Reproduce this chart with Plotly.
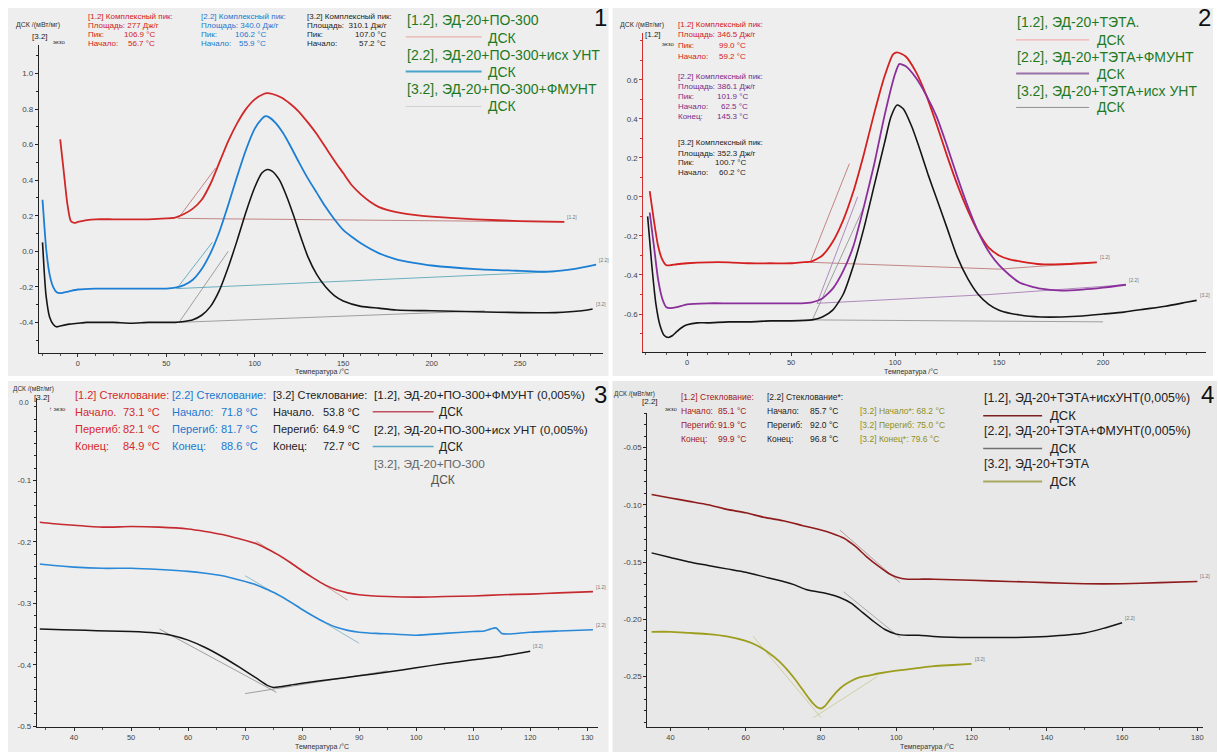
import plotly.graph_objects as go

W, H = 1218, 756
FONT = "Arial, 'Liberation Sans', sans-serif"

# ---------------- Panel 1 data (ЭД-20 + ПО-300) ----------------
p1_red_T = [-10, -8, -6, -4, -2, 0, 5, 10, 20, 30, 40, 50, 55, 60, 65, 70, 75, 80, 85, 90, 95, 100, 105, 107, 110, 115, 120, 125, 130, 135, 140, 145, 150, 155, 160, 165, 170, 180, 190, 200, 225, 250, 275]
p1_red_Y = [0.63, 0.45, 0.27, 0.17, 0.16, 0.165, 0.175, 0.18, 0.18, 0.18, 0.18, 0.185, 0.19, 0.21, 0.24, 0.29, 0.38, 0.50, 0.62, 0.72, 0.80, 0.855, 0.885, 0.89, 0.885, 0.865, 0.83, 0.785, 0.725, 0.66, 0.585, 0.51, 0.44, 0.37, 0.32, 0.28, 0.25, 0.22, 0.205, 0.195, 0.18, 0.17, 0.165]
p1_blue_T = [-20, -19, -18, -16, -14, -12, -10, -5, 0, 10, 20, 30, 40, 50, 55, 60, 65, 70, 75, 80, 85, 90, 95, 100, 104, 106, 108, 112, 116, 120, 125, 130, 135, 140, 145, 150, 155, 160, 170, 180, 190, 200, 225, 250, 265, 280, 293]
p1_blue_Y = [0.29, 0.15, 0.02, -0.13, -0.20, -0.23, -0.235, -0.225, -0.215, -0.21, -0.21, -0.21, -0.21, -0.21, -0.205, -0.19, -0.16, -0.10, -0.01, 0.11, 0.26, 0.42, 0.57, 0.69, 0.745, 0.76, 0.755, 0.72, 0.665, 0.595, 0.50, 0.41, 0.33, 0.25, 0.18, 0.12, 0.08, 0.045, -0.01, -0.045, -0.065, -0.08, -0.10, -0.11, -0.115, -0.10, -0.075]
p1_black_T = [-20, -19, -18, -16, -14, -12, -10, -5, 0, 5, 10, 20, 30, 40, 50, 55, 60, 65, 70, 75, 80, 85, 90, 95, 100, 104, 107, 110, 114, 118, 122, 126, 130, 135, 140, 145, 150, 160, 170, 180, 200, 225, 250, 270, 285, 291]
p1_black_Y = [0.05, -0.12, -0.25, -0.37, -0.41, -0.425, -0.42, -0.41, -0.405, -0.40, -0.40, -0.40, -0.405, -0.40, -0.40, -0.40, -0.395, -0.385, -0.36, -0.31, -0.22, -0.09, 0.06, 0.22, 0.36, 0.44, 0.46, 0.45, 0.40, 0.31, 0.20, 0.08, -0.03, -0.13, -0.20, -0.25, -0.28, -0.31, -0.32, -0.33, -0.335, -0.34, -0.345, -0.345, -0.335, -0.325]
p1_aux = [
    ([56.7, 275], [0.185, 0.165], "#b86a6a"),
    ([56.7, 78], [0.185, 0.47], "#b86a6a"),
    ([55.9, 270], [-0.21, -0.115], "#4aa0b4"),
    ([55.9, 76], [-0.21, 0.05], "#4aa0b4"),
    ([57.2, 230], [-0.40, -0.335], "#8a8a8a"),
    ([57.2, 85], [-0.40, 0.0], "#8a8a8a"),
]

# ---------------- Panel 2 data (ЭД-20 + ТЭТА) ----------------
p2_red_T = [-18, -16, -14, -12, -10, -8, -5, 0, 10, 20, 30, 40, 50, 55, 60, 65, 70, 75, 80, 85, 90, 95, 99, 101, 105, 110, 115, 120, 125, 130, 135, 140, 145, 150, 155, 160, 170, 180, 190, 197]
p2_red_Y = [0.03, -0.12, -0.25, -0.32, -0.35, -0.35, -0.345, -0.34, -0.335, -0.335, -0.34, -0.34, -0.34, -0.335, -0.33, -0.30, -0.23, -0.12, 0.03, 0.22, 0.43, 0.62, 0.73, 0.74, 0.72, 0.64, 0.52, 0.37, 0.21, 0.06, -0.07, -0.18, -0.26, -0.30, -0.32, -0.33, -0.345, -0.345, -0.34, -0.335]
p2_purple_T = [-18, -16, -14, -12, -10, -8, -5, 0, 10, 20, 30, 40, 50, 55, 60, 65, 70, 75, 80, 85, 90, 95, 100, 102, 105, 110, 115, 120, 125, 130, 135, 140, 145, 150, 155, 160, 170, 180, 190, 200, 211]
p2_purple_Y = [-0.08, -0.25, -0.42, -0.52, -0.565, -0.57, -0.565, -0.55, -0.545, -0.545, -0.545, -0.545, -0.545, -0.545, -0.54, -0.52, -0.47, -0.38, -0.25, -0.05, 0.17, 0.42, 0.63, 0.68, 0.67, 0.61, 0.52, 0.41, 0.26, 0.10, -0.05, -0.18, -0.28, -0.35, -0.40, -0.44, -0.47, -0.48, -0.475, -0.465, -0.45]
p2_black_T = [-19, -17, -15, -13, -11, -9, -7, -5, -2, 0, 5, 10, 20, 30, 40, 50, 60, 65, 70, 75, 80, 85, 90, 95, 98, 101, 104, 108, 112, 116, 120, 125, 130, 135, 140, 145, 150, 160, 170, 180, 190, 200, 210, 220, 230, 240, 245]
p2_black_Y = [-0.10, -0.35, -0.55, -0.66, -0.71, -0.72, -0.71, -0.69, -0.665, -0.655, -0.645, -0.645, -0.64, -0.64, -0.635, -0.635, -0.63, -0.615, -0.58, -0.50, -0.35, -0.16, 0.06, 0.28, 0.41, 0.47, 0.45, 0.36, 0.24, 0.11, -0.01, -0.16, -0.31, -0.42, -0.50, -0.55, -0.58, -0.605, -0.615, -0.615, -0.61, -0.60, -0.59, -0.575, -0.56, -0.54, -0.53]
p2_aux = [
    ([59.2, 150, 197], [-0.335, -0.37, -0.335], "#b86a6a"),
    ([59.2, 78], [-0.335, 0.17], "#b86a6a"),
    ([62.5, 145.3, 211], [-0.545, -0.50, -0.45], "#a070b0"),
    ([62.5, 82], [-0.545, 0.0], "#a070b0"),
    ([60.2, 200], [-0.63, -0.64], "#8a8a8a"),
    ([60.2, 85], [-0.63, -0.05], "#8a8a8a"),
]

# ---------------- Panel 3 data (glass transition, ПО-300) ----------------
p3_red_T = [34, 36, 40, 45, 50, 55, 60, 63, 66, 69, 72, 74, 76, 78, 80, 82, 84, 86, 88, 90, 95, 100, 105, 110, 115, 120, 125, 131]
p3_red_Y = [-0.168, -0.170, -0.173, -0.176, -0.175, -0.176, -0.179, -0.183, -0.188, -0.195, -0.203, -0.212, -0.222, -0.234, -0.247, -0.259, -0.270, -0.278, -0.283, -0.286, -0.289, -0.290, -0.289, -0.288, -0.286, -0.285, -0.283, -0.281]
p3_blue_T = [34, 36, 40, 45, 50, 55, 60, 63, 66, 69, 72, 74, 76, 78, 80, 82, 84, 86, 88, 90, 93, 96, 100, 105, 110, 112, 113, 114, 115, 116, 120, 125, 131]
p3_blue_Y = [-0.236, -0.238, -0.241, -0.243, -0.243, -0.245, -0.248, -0.251, -0.255, -0.262, -0.270, -0.278, -0.287, -0.298, -0.310, -0.321, -0.331, -0.339, -0.344, -0.347, -0.349, -0.350, -0.352, -0.349, -0.346, -0.345, -0.342, -0.340, -0.349, -0.350, -0.347, -0.345, -0.343]
p3_black_T = [34, 38, 42, 46, 50, 54, 57, 60, 63, 66, 69, 72, 74, 75, 76, 78, 80, 85, 90, 95, 100, 105, 110, 115, 120]
p3_black_Y = [-0.342, -0.343, -0.344, -0.345, -0.346, -0.348, -0.352, -0.360, -0.372, -0.387, -0.404, -0.422, -0.434, -0.437, -0.436, -0.433, -0.430, -0.424, -0.418, -0.412, -0.405, -0.398, -0.392, -0.386, -0.378]
p3_aux = [
    ([72, 88], [-0.199, -0.295], "#c08a8a"),
    ([70, 90], [-0.255, -0.365], "#7ab0c0"),
    ([55, 75.5], [-0.342, -0.445], "#8a8a8a"),
    ([70, 95], [-0.447, -0.41], "#8a8a8a"),
]

# ---------------- Panel 4 data (glass transition, ТЭТА) ----------------
p4_red_T = [35, 40, 45, 50, 55, 60, 65, 70, 75, 80, 83, 86, 89, 92, 95, 98, 100, 103, 106, 110, 120, 130, 140, 150, 160, 170, 180]
p4_red_Y = [-0.091, -0.094, -0.097, -0.100, -0.104, -0.107, -0.111, -0.114, -0.118, -0.122, -0.125, -0.129, -0.136, -0.145, -0.153, -0.160, -0.163, -0.165, -0.165, -0.165, -0.166, -0.167, -0.168, -0.169, -0.169, -0.168, -0.167]
p4_black_T = [35, 40, 45, 50, 55, 60, 65, 70, 73, 76, 79, 82, 85, 88, 91, 94, 97, 100, 103, 106, 110, 120, 130, 140, 150, 155, 160]
p4_black_Y = [-0.142, -0.146, -0.150, -0.153, -0.156, -0.159, -0.163, -0.167, -0.170, -0.174, -0.176, -0.178, -0.181, -0.186, -0.194, -0.202, -0.209, -0.213, -0.214, -0.214, -0.215, -0.216, -0.216, -0.215, -0.212, -0.208, -0.203]
p4_olive_T = [35, 40, 45, 50, 55, 60, 63, 66, 69, 71, 73, 75, 77, 78, 79, 80, 81, 82, 84, 86, 88, 90, 93, 96, 100, 105, 110, 115, 120]
p4_olive_Y = [-0.211, -0.211, -0.212, -0.213, -0.215, -0.219, -0.223, -0.229, -0.237, -0.244, -0.252, -0.261, -0.270, -0.274, -0.277, -0.278, -0.276, -0.272, -0.264, -0.258, -0.254, -0.251, -0.249, -0.247, -0.245, -0.243, -0.241, -0.240, -0.239]
p4_aux = [
    ([62, 80], [-0.215, -0.286], "#c8c890"),
    ([78, 95], [-0.286, -0.25], "#c8c890"),
    ([85, 101], [-0.122, -0.168], "#b08a8a"),
    ([86, 101], [-0.176, -0.216], "#9a9a9a"),
]

# ---------------- tick labels ----------------
p1_xticks = [0, 50, 100, 150, 200, 250]
p1_yticks = [-0.4, -0.2, 0.0, 0.2, 0.4, 0.6, 0.8, 1.0]
p1_yticklabels = ["-0.4", "-0.2", "0.0", "0.2", "0.4", "0.6", "0.8", "1.0"]
p2_xticks = [0, 50, 100, 150, 200]
p2_yticks = [-0.8, -0.6, -0.4, -0.2, 0.0, 0.2, 0.4, 0.6]
p2_yticklabels = ["-0.8", "-0.6", "-0.4", "-0.2", "0.0", "0.2", "0.4", "0.6"]
p3_xticks = [40, 50, 60, 70, 80, 90, 100, 110, 120, 130]
p3_yticks = [-0.5, -0.4, -0.3, -0.2, -0.1]
p3_yticklabels = ["-0.5", "-0.4", "-0.3", "-0.2", "-0.1"]
p4_xticks = [40, 60, 80, 100, 120, 140, 160, 180]
p4_yticks = [-0.25, -0.20, -0.15, -0.10, -0.05]
p4_yticklabels = ["-0.25", "-0.20", "-0.15", "-0.10", "-0.05"]


def fx(p):
    return p / W


def fy(p):
    return 1 - p / H


fig = go.Figure()
annotations = []
shapes = []


def add_curve(T, Y, color, width, n, label=None, opacity=1.0):
    xa = "x" if n == 1 else f"x{n}"
    ya = "y" if n == 1 else f"y{n}"
    fig.add_trace(go.Scatter(x=T, y=Y, mode="lines", xaxis=xa, yaxis=ya,
                             line=dict(color=color, width=width, shape="spline", smoothing=0.6),
                             opacity=opacity, showlegend=False, hoverinfo="skip"))
    if label:
        annotations.append(dict(x=T[-1], y=Y[-1], xref=xa, yref=ya, text=label, showarrow=False,
                                xanchor="left", yanchor="bottom", xshift=1, yshift=0,
                                font=dict(family=FONT, size=5, color="#777")))


def add_aux(aux, n):
    xa = "x" if n == 1 else f"x{n}"
    ya = "y" if n == 1 else f"y{n}"
    for T, Y, c in aux:
        fig.add_trace(go.Scatter(x=T, y=Y, mode="lines", xaxis=xa, yaxis=ya,
                                 line=dict(color=c, width=0.8), showlegend=False, hoverinfo="skip"))


def txt(x, y, s, size, color="#222", anchor="left"):
    annotations.append(dict(x=fx(x), y=fy(y), xref="paper", yref="paper", text=s, showarrow=False,
                            xanchor=anchor, yanchor="middle", borderpad=0,
                            font=dict(family=FONT, size=size, color=color)))


def hline(x0, x1, y, color, width=1.5):
    shapes.append(dict(type="line", xref="paper", yref="paper", x0=fx(x0), x1=fx(x1), y0=fy(y), y1=fy(y),
                       line=dict(color=color, width=width)))


def rect(x0, y0, x1, y1, color):
    shapes.append(dict(type="rect", xref="paper", yref="paper", x0=fx(x0), x1=fx(x1), y0=fy(y1), y1=fy(y0),
                       fillcolor=color, line=dict(width=0), layer="below"))


# panel backgrounds
rect(8, 8, 609, 378, "#eeeeee")
rect(613, 8, 1214, 378, "#eeeeee")
rect(8, 383, 609, 756, "#eeeeee")
rect(613, 383, 1218, 756, "#e8e8e8")

# ---- curves ----
add_aux(p1_aux, 1)
add_curve(p1_red_T, p1_red_Y, "#d02828", 1.8, 1, "[1.2]")
add_curve(p1_blue_T, p1_blue_Y, "#1c7fd4", 1.8, 1, "[2.2]")
add_curve(p1_black_T, p1_black_Y, "#151515", 1.6, 1, "[3.2]")

add_aux(p2_aux, 2)
add_curve(p2_red_T, p2_red_Y, "#d42020", 1.8, 2, "[1.2]")
add_curve(p2_purple_T, p2_purple_Y, "#8b2f9b", 1.8, 2, "[2.2]")
add_curve(p2_black_T, p2_black_Y, "#151515", 1.6, 2, "[3.2]")

add_aux(p3_aux, 3)
add_curve(p3_red_T, p3_red_Y, "#c42a30", 1.6, 3, "[1.2]")
add_curve(p3_blue_T, p3_blue_Y, "#2a88d8", 1.6, 3, "[2.2]")
add_curve(p3_black_T, p3_black_Y, "#151515", 1.5, 3, "[3.2]")

add_aux(p4_aux, 4)
add_curve(p4_red_T, p4_red_Y, "#8e1c1c", 1.6, 4, "[1.2]")
add_curve(p4_black_T, p4_black_Y, "#151515", 1.5, 4, "[2.2]")
add_curve(p4_olive_T, p4_olive_Y, "#9e9e1e", 1.8, 4, "[3.2]")


def xaxis(dom, rng, tickvals, minor, anchor):
    return dict(domain=[fx(dom[0]), fx(dom[1])], range=rng, anchor=anchor, showline=True,
                linecolor="#222", linewidth=1.2, ticks="outside", ticklen=3, tickcolor="#333",
                tickmode="array", tickvals=tickvals, ticktext=[str(v) for v in tickvals],
                tickfont=dict(family=FONT, size=7.5, color="#444"), showgrid=False, zeroline=False,
                minor=dict(ticks="outside", ticklen=2, tickcolor="#555", tickmode="linear",
                           tick0=0, dtick=minor, showgrid=False))


def yaxis(dom, rng, tickvals, ticktext, minor, anchor, color="#222"):
    return dict(domain=[fy(dom[1]), fy(dom[0])], range=rng, anchor=anchor, showline=True,
                linecolor=color, linewidth=1.2, ticks="outside", ticklen=3, tickcolor=color,
                tickmode="array", tickvals=tickvals, ticktext=ticktext,
                tickfont=dict(family=FONT, size=8, color="#444"), showgrid=False, zeroline=False,
                minor=dict(ticks="outside", ticklen=2, tickcolor=color, tickmode="linear",
                           tick0=0, dtick=minor, showgrid=False))


layout_axes = dict(
    xaxis=xaxis([39, 603], [-22, 296.6], p1_xticks, 10, "y"),
    yaxis=yaxis([45, 355], [-0.573, 1.162], p1_yticks, p1_yticklabels, 0.1, "x"),
    xaxis2=xaxis([644, 1207], [-21, 249.5], p2_xticks, 10, "y2"),
    yaxis2=yaxis([33, 354], [-0.795, 0.84], p2_yticks, p2_yticklabels, 0.1, "x2", color="#d03030"),
    xaxis3=xaxis([37, 598], [33.5, 131.8], p3_xticks, 5, "y3"),
    yaxis3=yaxis([400, 731], [-0.5016, 0.0345], p3_yticks, p3_yticklabels, 0.02, "x3"),
    xaxis4=xaxis([648, 1204], [33.9, 181.5], p4_xticks, 10, "y4"),
    yaxis4=yaxis([415, 731], [-0.2943, -0.0196], p4_yticks, p4_yticklabels, 0.01, "x4"),
)

# ---- axis titles ----
for cx, cy in [(322, 374), (912, 374), (322, 751), (928, 751)]:
    txt(cx, cy, "Температура /°C", 7, "#333", "center")

# ---- panel numbers ----
txt(601, 18, "1", 24, "#111", "center")
txt(1205, 18, "2", 24, "#111", "center")
txt(601, 397, "3", 24, "#111", "center")
txt(1208, 397, "4", 24, "#111", "center")

# ---- y-axis headers ----
txt(15, 25, "ДСК /(мВт/мг)", 7, "#333")
txt(31, 37, "[3.2]", 8, "#222")
txt(52, 42, "экзо", 6, "#333")
txt(620, 25, "ДСК /(мВт/мг)", 7, "#333")
txt(645, 35, "[1.2]", 8, "#222")
txt(662, 44, "экзо", 6, "#333")
txt(12, 391, "ДСК /(мВт/мг)", 6.5, "#333")
txt(33, 400, "[3.2]", 8, "#222")
txt(18, 405, "0.0", 7, "#444")
txt(48, 411, "↑ экзо", 6, "#333")
txt(614, 396, "ДСК /(мВт/мг)", 6.5, "#333")
txt(642, 404, "[2.2]", 8, "#222")
txt(665, 411, "экзо", 6, "#333")


def stats_block(x, rows, vright, size, color):
    for (y, lab, val) in rows:
        txt(x, y, lab, size, color)
        if val:
            txt(vright, y, val, size, color, "right")


# ---- panel 1 stats ----
stats_block(87, [(17, "[1.2] Комплексный пик:", None), (26, "Площадь: 277 Дж/г", None),
                 (35, "Пик:", "106.9 °C"), (44, "Начало:", "56.7 °C")], 156, 8, "#d42020")
stats_block(200, [(17, "[2.2] Комплексный пик:", None), (26, "Площадь: 340.0 Дж/г", None),
                  (35, "Пик:", "106.2 °C"), (44, "Начало:", "55.9 °C")], 267, 8, "#1a78d0")
stats_block(306, [(17, "[3.2] Комплексный пик:", None), (26, "Площадь:  310.1 Дж/г", None),
                  (35, "Пик:", "107.0 °C"), (44, "Начало:", "57.2 °C")], 387, 8, "#222")

# ---- panel 2 stats ----
stats_block(678, [(25, "[1.2] Комплексный пик:", None), (35, "Площадь: 346.5 Дж/г", None),
                  (46, "Пик:", "99.0 °C"), (57, "Начало:", "59.2 °C")], 748, 8, "#d42020")
stats_block(678, [(77, "[2.2] Комплексный пик:", None), (87, "Площадь: 386.1 Дж/г", None),
                  (97, "Пик:", "101.9 °C"), (107, "Начало:", "62.5 °C"), (117, "Конец:", "145.3 °C")],
            750, 8, "#7a2a8a")
stats_block(678, [(143, "[3.2] Комплексный пик:", None), (154, "Площадь: 352.3 Дж/г", None),
                  (163, "Пик:", "100.7 °C"), (173, "Начало:", "60.2 °C")], 748, 8, "#222")

# ---- panel 3 stats ----
stats_block(74, [(397, "[1.2] Стеклование:", None), (414, "Начало.", "73.1 °C"),
                 (431, "Перегиб:", "82.1 °C"), (448, "Конец:", "84.9 °C")], 161, 11, "#d42a2a")
stats_block(171, [(397, "[2.2] Стеклование:", None), (414, "Начало:", "71.8 °C"),
                  (431, "Перегиб:", "81.7 °C"), (448, "Конец:", "88.6 °C")], 259, 11, "#1a78d0")
stats_block(272, [(397, "[3.2] Стеклование:", None), (414, "Начало.", "53.8 °C"),
                  (431, "Перегиб:", "64.9 °C"), (448, "Конец:", "72.7 °C")], 361, 11, "#222")

# ---- panel 4 stats ----
stats_block(681, [(399, "[1.2] Стеклование:", None), (413, "Начало:", "85.1 °C"),
                  (427, "Перегиб:", "91.9 °C"), (441, "Конец:", "99.9 °C")], 748, 8.5, "#a01818")
stats_block(767, [(399, "[2.2] Стеклование*:", None), (413, "Начало:", "85.7 °C"),
                  (427, "Перегиб:", "92.0 °C"), (441, "Конец:", "96.8 °C")], 840, 8.5, "#222")
txt(860, 413, "[3.2] Начало*: 68.2 °C", 8.5, "#8f8f1a")
txt(860, 427, "[3.2] Перегиб: 75.0 °C", 8.5, "#8f8f1a")
txt(860, 441, "[3.2] Конец*: 79.6 °C", 8.5, "#8f8f1a")

# ---- legends ----
G = "#1f7a1f"
txt(406, 20, "[1.2], ЭД-20+ПО-300", 14, G)
hline(406, 482, 37, "#e8b0a8", 1.2)
txt(487, 38, "ДСК", 14, G)
txt(406, 55, "[2.2], ЭД-20+ПО-300+исх УНТ", 14, G)
hline(406, 482, 72, "#4aa3c8", 2)
txt(487, 72, "ДСК", 14, G)
txt(406, 89, "[3.2], ЭД-20+ПО-300+ФМУНТ", 14, G)
hline(406, 482, 107, "#d0d0d0", 1)
txt(487, 107, "ДСК", 14, G)

txt(1017, 22, "[1.2], ЭД-20+ТЭТА.", 14, G)
hline(1017, 1090, 40, "#f0b0b0", 1.2)
txt(1097, 40, "ДСК", 14, G)
txt(1017, 57, "[2.2], ЭД-20+ТЭТА+ФМУНТ", 14, G)
hline(1017, 1090, 74, "#9a70a8", 2)
txt(1097, 74, "ДСК", 14, G)
txt(1017, 91, "[3.2], ЭД-20+ТЭТА+исх УНТ", 14, G)
hline(1017, 1090, 108, "#909090", 1)
txt(1097, 108, "ДСК", 14, G)

txt(373, 397, "[1.2], ЭД-20+ПО-300+ФМУНТ (0,005%)", 11.8, "#222")
hline(373, 434, 414, "#c05060", 1.5)
txt(438, 414, "ДСК", 12, "#222")
txt(373, 432, "[2.2], ЭД-20+ПО-300+исх УНТ (0,005%)", 11.8, "#222")
hline(373, 434, 449, "#58a8c8", 1.5)
txt(438, 449, "ДСК", 12, "#222")
txt(373, 466, "[3.2], ЭД-20+ПО-300", 11.8, "#666")
txt(430, 483, "ДСК", 12, "#555")

txt(984, 400, "[1.2], ЭД-20+ТЭТА+исхУНТ(0,005%)", 12.4, "#222")
hline(984, 1043, 418, "#7a2020", 1.5)
txt(1050, 418, "ДСК", 13, "#222")
txt(984, 433, "[2.2], ЭД-20+ТЭТА+ФМУНТ(0,005%)", 12.4, "#222")
hline(984, 1043, 451, "#707070", 1.5)
txt(1050, 451, "ДСК", 13, "#222")
txt(984, 466, "[3.2], ЭД-20+ТЭТА", 12.4, "#222")
hline(984, 1043, 484, "#a8a860", 2)
txt(1050, 484, "ДСК", 13, "#222")

fig.update_layout(
    width=W, height=H, margin=dict(l=0, r=0, t=0, b=0),
    paper_bgcolor="white", plot_bgcolor="rgba(0,0,0,0)",
    font=dict(family=FONT), showlegend=False,
    annotations=annotations, shapes=shapes,
    **layout_axes,
)

fig.write_html("out.html")
